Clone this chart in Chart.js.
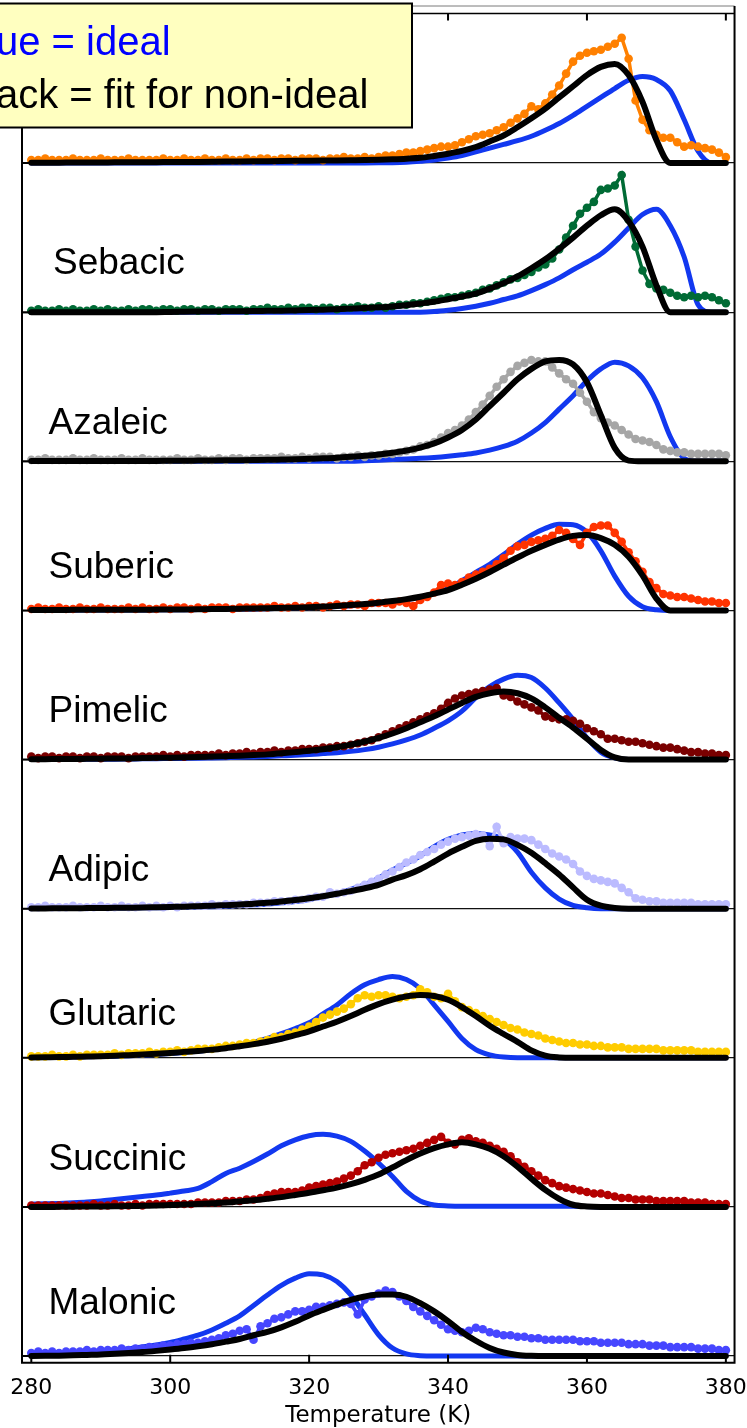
<!DOCTYPE html>
<html>
<head>
<meta charset="utf-8">
<title>Desorption profiles of dicarboxylic acids</title>
<script src="https://cdn.jsdelivr.net/npm/chart.js@4.4.1/dist/chart.umd.min.js"></script>
<style>
  html, body { margin: 0; padding: 0; background: #fff; }
  #wrap { width: 747px; height: 1428px; position: relative; }
</style>
</head>
<body>
<div id="wrap"><canvas id="chart" width="747" height="1428"></canvas></div>
<script>
// Temperature grids (K): measured signal every 1 K, model curves every 2 K
const dataTemps = [280,281,282,283,284,285,286,287,288,289,290,291,292,293,294,295,296,297,298,299,
  300,301,302,303,304,305,306,307,308,309,310,311,312,313,314,315,316,317,318,319,
  320,321,322,323,324,325,326,327,328,329,330,331,332,333,334,335,336,337,338,339,
  340,341,342,343,344,345,346,347,348,349,350,351,352,353,354,355,356,357,358,359,
  360,361,362,363,364,365,366,367,368,369,370,371,372,373,374,375,376,377,378,379,380];
const fitTemps = [280,282,284,286,288,290,292,294,296,298,300,302,304,306,308,310,312,314,316,318,
  320,322,324,326,328,330,332,334,336,338,340,342,344,346,348,350,352,354,356,358,
  360,362,364,366,368,370,372,374,376,378,380];
const xTickValues = [280, 300, 320, 340, 360, 380];

// Normalised signal, in percent of one panel height
const upperData = [2,2,3,2,2,2,3,2,2,2,3,2,2,2,3,2,2,2,2,3,
  2,2,3,2,2,3,2,2,3,2,2,3,2,3,3,2,3,3,2,3,
  3,3,2,3,3,4,3,3,4,3,
  4,5,5,6,7,7,8,9,10,11,
  11,12,14,16,18,19,20,22,24,27,
  30,33,38,36,40,46,52,60,68,72,
  74,75,76,78,80,84,70,42,29,22,
  19,17,17,14,11,12,11,10,9,7,4];
const upperIdeal = [0,0,0,0,0,0,0,0,0,0,
  0,0,0,0,0,0,0,0,0,0,
  0,0,0,0,0.1,0.2,0.3,0.6,1.2,2,
  3.3,5,7.5,10,12.5,15,18,22,26.5,32,
  38,44,50,55.5,58,56,48.5,29,8,0,
  0];
const upperFit = [0.3,0.3,0.3,0.4,0.4,0.4,0.5,0.5,0.6,0.6,
  0.7,0.7,0.8,0.9,1,1.1,1.2,1.3,1.4,1.5,
  1.6,1.7,1.8,1.9,2,2.2,2.5,2.9,3.5,4.8,
  6.3,8.2,10.8,14.5,18.5,24,30,36.5,44,51.5,
  59,64.5,66.5,59,41,15.5,0,0,0,0,
  0];

const sebacicData = [1,2,1,1,2,1,2,1,1,2,1,2,1,1,2,1,2,2,1,2,
  2,1,2,2,1,2,2,1,2,2,2,1,2,2,3,2,2,3,2,3,
  3,2,3,3,2,3,3,4,3,3,
  4,3,4,5,5,6,6,7,8,9,
  10,10,11,12,13,15,16,18,20,22,
  23,25,27,30,32,36,42,50,58,66,
  70,74,82,83,85,92,62,44,28,19,
  16,15,13,11,10,11,10,11,10,8,6];
const sebacicIdeal = [0,0,0,0,0,0,0,0,0,0,
  0,0,0,0,0,0,0,0,0,0,
  0,0,0,0,0,0,0,0,0,0.4,
  1.3,2.5,4,6,8.5,11,14.5,18.5,23,28.5,
  33.5,39,47,56.5,65.5,69,58,37,5,0,
  0];
const sebacicFit = [0,0,0,0,0,0,0,0,0,0,
  0.2,0.3,0.4,0.5,0.6,0.7,0.8,0.9,1,1.2,
  1.4,1.7,2,2.4,2.8,3.3,3.9,4.7,5.8,7,
  8.7,10.5,12.5,15.8,19.5,24,29.5,35.5,42.5,50,
  58,65,69,61,44,18,0,0,0,0,
  0];

const azaleicData = [1,1,2,1,1,1,2,1,1,2,1,1,1,2,1,1,2,1,1,1,
  1,2,1,1,2,1,1,2,1,2,2,1,2,2,2,2,3,2,2,3,
  2,3,3,3,2,3,3,4,3,4,
  4,5,5,6,7,8,10,11,13,16,
  19,21,24,28,33,38,44,50,55,60,
  64,66,68,67,67,63,59,55,52,46,
  40,33,29,26,24,21,18,15,14,13,
  11,8,7,6,6,5,5,5,5,5,4];
const azaleicIdeal = [0,0,0,0,0,0,0,0,0,0,
  0,0,0,0,0,0,0,0,0,0,
  0,0,0,0,0.4,0.8,1.2,1.6,2,2.6,
  3.4,4.4,5.6,7.5,10,13.5,19,26,35,44,
  54,62,66.5,64,56,40,16.5,2,0,0,
  0];
const azaleicFit = [0.3,0.3,0.3,0.3,0.3,0.3,0.3,0.3,0.3,0.3,
  0.4,0.4,0.5,0.6,0.7,0.8,0.9,1,1.2,1.4,
  1.7,2,2.4,3,3.7,4.6,5.8,7.2,9.2,12,
  16,21,28,37,46,55,62,67,68,65,
  53,31,9,0.5,0,0,0,0,0,0,
  0];

const subericData = [1,2,1,1,2,1,1,2,1,1,2,1,1,1,2,1,2,1,1,2,
  1,2,2,1,2,1,2,2,2,1,2,2,2,2,2,3,2,2,3,2,
  3,3,2,3,4,3,4,4,3,5,
  5,5,4,6,5,3,7,9,12,17,
  18,17,19,22,24,26,28,31,35,40,
  43,44,46,47,48,50,54,52,48,44,
  52,56,57,57,52,46,39,33,26,19,
  15,11,10,9,9,8,7,6,6,5,5];
const subericIdeal = [0.2,0.2,0.2,0.2,0.3,0.3,0.3,0.3,0.3,0.4,
  0.4,0.5,0.6,0.7,0.8,0.9,1,1.2,1.4,1.6,
  1.9,2.2,2.6,3.1,3.8,4.7,5.8,7.2,9,11.5,
  14.5,20,25.5,31,37.5,44.5,50.5,55,57.8,57.5,
  52.5,40,23,9.5,2.5,0.5,0,0,0,0,
  0];
const subericFit = [0.3,0.3,0.3,0.4,0.4,0.4,0.5,0.5,0.5,0.6,
  0.6,0.7,0.8,0.9,1,1.2,1.3,1.5,1.7,1.9,
  2.2,2.6,3,3.6,4.3,5.2,6.3,7.6,9.2,11.3,
  13.7,17.3,21.3,25.8,30.7,35.5,40,44,47.5,50,
  50.6,48.5,44,36,23.5,8,0,0,0,0,
  0];

const pimelicData = [2,1,2,2,1,2,2,1,2,2,1,2,2,2,1,2,2,2,2,3,
  2,3,2,3,3,3,3,4,3,4,4,5,4,5,5,6,5,6,6,7,
  7,7,8,8,9,9,10,11,12,13,
  15,17,19,21,23,25,27,29,31,34,
  38,41,43,44,45,46,47,48,43,42,
  39,37,35,33,29,28,27,27,26,24,
  21,19,17,14,14,13,12,12,11,10,
  9,8,8,7,6,5,5,4,4,3,3];
const pimelicIdeal = [0.1,0.1,0.2,0.2,0.2,0.3,0.3,0.4,0.5,0.6,
  0.7,0.8,0.9,1.1,1.3,1.5,1.8,2.1,2.5,2.9,
  3.4,4,4.6,5.5,6.7,8.3,10.5,13.2,16.5,21,
  26,32.5,41.5,49,54,56.5,55,48,38,27,
  14.5,5,1.2,0,0,0,0,0,0,0,
  0];
const pimelicFit = [0.3,0.3,0.4,0.4,0.5,0.6,0.7,0.8,1,1.2,
  1.3,1.5,1.7,2,2.3,2.6,3,3.5,4.2,5,
  5.9,7,8.3,10,12,14.5,17.5,21,25,29,
  33.5,38,42,44.5,45.6,44.5,41,35,28,21.5,
  14,6.5,1.5,0,0,0,0,0,0,0,
  0];

const adipicData = [1,1,2,1,1,1,2,1,1,1,2,1,1,2,1,1,2,1,2,1,
  2,1,2,2,2,2,3,2,3,3,3,3,4,4,4,5,5,5,6,6,
  7,8,8,11,10,11,12,14,16,18,
  20,23,25,28,31,33,36,38,40,43,
  45,47,48,49,50,49,42,55,44,48,
  47,47,46,43,40,37,35,33,30,25,
  22,20,19,18,17,14,11,7,6,5,
  5,4,4,4,4,4,3,3,3,3,3];
const adipicIdeal = [0.1,0.1,0.2,0.2,0.3,0.3,0.4,0.5,0.6,0.7,
  0.8,1,1.2,1.4,1.7,2.1,2.6,3.2,4,4.8,
  6.2,8,10,13,16,20.5,26,30.5,35.5,41.7,
  46.5,49.5,50.5,49.5,46.5,38,24.5,14,6.5,2.2,
  0.6,0,0,0,0,0,0,0,0,0,
  0];
const adipicFit = [0.2,0.2,0.3,0.3,0.4,0.5,0.6,0.7,0.8,1,
  1.2,1.4,1.7,2,2.4,2.8,3.4,4,4.8,5.8,
  7,8.4,10,11.8,13.7,16,19.5,22.5,26.5,31.6,
  37,41.5,45.5,47,46.5,42.8,37.5,30.5,23,14.3,
  6,2,0.5,0,0,0,0,0,0,0,
  0];

const glutaricData = [1,1,1,2,1,1,2,1,2,2,2,2,3,2,3,3,3,4,3,4,
  4,5,4,5,6,6,6,7,8,8,
  9,10,10,11,12,14,14,16,17,19,
  21,24,27,29,31,33,36,40,42,41,
  42,42,41,40,41,42,46,44,41,40,
  43,38,34,32,30,28,26,24,22,20,
  19,17,16,15,13,12,11,10,10,9,
  9,8,8,7,7,7,6,6,6,6,
  6,5,5,5,5,5,4,4,4,4,4];
const glutaricIdeal = [0.2,0.3,0.4,0.5,0.7,0.9,1.1,1.4,1.8,2.3,
  2.9,3.6,4.4,5.4,6.7,8.2,10.4,13,16.2,19.7,
  23.5,29.5,35.5,43,49,52.5,54.5,52.5,46.5,35.5,
  24.4,13,5.5,2,0.5,0,0,0,0,0,
  0,0,0,0,0,0,0,0,0,0,
  0];
const glutaricFit = [0.3,0.4,0.5,0.7,0.9,1.1,1.4,1.8,2.2,2.7,
  3.3,4,4.6,5.5,6.5,7.8,9.2,10.8,12.8,15.2,
  17.8,21,24.2,28,32.2,36,39,41.2,42.2,41.5,
  38.9,34,28,21.5,16,10.7,5,1.5,0.3,0,
  0,0,0,0,0,0,0,0,0,0,
  0];

const succinicData = [1,1,1,1,1,1,1,1,1,2,1,1,2,1,1,2,1,2,2,2,
  2,2,2,2,3,3,3,3,4,4,
  4,5,5,6,8,9,10,10,10,11,
  13,14,15,16,17,19,21,24,28,30,
  33,35,36,37,38,39,41,43,45,47,
  43,42,45,46,44,43,41,39,37,34,
  30,27,24,21,18,16,14,13,12,11,
  10,9,9,8,7,6,6,5,5,5,
  4,4,4,4,4,3,3,3,2,2,2];
const succinicIdeal = [1.9,2.1,2.4,2.8,3.3,4,5,6,7,8,
  9.3,10.7,12.4,17,22.5,26,30.5,35.5,41,45,
  47.8,48.7,47.5,44,37.5,29.5,20.5,10.4,4,1.3,
  0.7,0.5,0.5,0.5,0.5,0.5,0.5,0.5,0.5,0.5,
  0.3,0,0,0,0,0,0,0,0,0,
  0];
const succinicFit = [0,0,0.1,0.2,0.3,0.4,0.5,0.6,0.8,1,
  1.3,1.6,2,2.5,3,3.7,4.5,5.5,6.6,8,
  9.5,11.2,13,15.3,18.2,21.7,26.5,31.4,35.8,39.4,
  42,43.4,42,39,34,27,19,11.5,5.5,1.5,
  0.3,0,0,0,0,0,0,0,0,0,
  0];

const malonicData = [2,3,2,3,2,3,3,3,4,3,4,4,4,5,4,5,5,6,6,7,
  7,8,8,9,9,10,11,12,14,15,
  17,18,11,20,22,25,26,28,30,30,
  31,33,33,34,35,36,35,28,38,40,
  42,44,43,40,37,33,30,27,24,21,
  18,17,16,17,19,18,16,15,14,14,
  13,13,12,12,11,11,11,11,11,10,
  10,10,9,9,9,9,8,8,8,7,
  7,7,6,6,6,6,5,5,5,4,4];
const malonicIdeal = [0.5,0.8,1.2,1.7,2.3,3,4,5,6.2,7.5,
  9.2,11.5,14,17.5,22,27,34,41,47.5,52.3,
  55.3,54.5,50,41,27.7,14.3,5.4,1.5,0.3,0,
  0,0,0,0,0,0,0,0,0,0,
  0,0,0,0,0,0,0,0,0,0,
  0];
const malonicFit = [0.1,0.2,0.3,0.5,0.8,1.1,1.6,2.1,2.7,3.5,
  4.4,5.4,6.6,8,9.7,11.5,14,16.2,19.3,23,
  27.3,31,34.5,37.7,40,41.3,41.3,39.8,35.5,30,
  23.5,16.2,10.3,5.5,2.4,0.8,0.2,0,0,0,
  0,0,0,0,0,0,0,0,0,0,
  0];

// Panel names, top to bottom (the uppermost panel carries no visible name)
const panelNames = ['', 'Sebacic', 'Azaleic', 'Suberic', 'Pimelic', 'Adipic', 'Glutaric', 'Succinic', 'Malonic'];
const panelColors = ['#FF8000', '#006B35', '#A6A6A6', '#FF3300', '#7A0000', '#BBBBFF', '#FFCC00', '#B40000', '#4646FF'];
const IDEAL_COLOR = '#1238F0';
const FIT_COLOR = '#000000';
const PANEL_STEP = 100;

const panelSeries = [
  [upperData, upperIdeal, upperFit],
  [sebacicData, sebacicIdeal, sebacicFit],
  [azaleicData, azaleicIdeal, azaleicFit],
  [subericData, subericIdeal, subericFit],
  [pimelicData, pimelicIdeal, pimelicFit],
  [adipicData, adipicIdeal, adipicFit],
  [glutaricData, glutaricIdeal, glutaricFit],
  [succinicData, succinicIdeal, succinicFit],
  [malonicData, malonicIdeal, malonicFit]
];

// Name placement: pixels above each panel's baseline, and left edge
const labelLift = [0, 38, 27.5, 32.5, 37.5, 28, 32.5, 37, 42];
const labelLeft = [0, 53, 48.5, 48.5, 48.5, 48.5, 48.5, 48.5, 48.5];

function stacked(temps, values, offset) {
  return temps.map((t, i) => ({ x: t, y: offset + values[i] }));
}

const datasets = [];
panelSeries.forEach(([measured, ideal, fit], i) => {
  const offset = (panelSeries.length - 1 - i) * PANEL_STEP;
  const color = panelColors[i];
  const tag = panelNames[i] || 'upper';
  datasets.push({
    label: tag + ' ideal',
    data: stacked(fitTemps, ideal, offset),
    borderColor: IDEAL_COLOR,
    borderWidth: 5,
    pointRadius: 0,
    cubicInterpolationMode: 'monotone',
    borderCapStyle: 'round',
    borderJoinStyle: 'round',
    fill: false,
    order: 2
  });
  datasets.push({
    label: tag + ' measured',
    data: stacked(dataTemps, measured, offset),
    borderColor: color,
    backgroundColor: color,
    pointBackgroundColor: color,
    borderWidth: 3.5,
    pointRadius: 4.3,
    pointBorderWidth: 0,
    tension: 0,
    fill: false,
    order: 1
  });
  datasets.push({
    label: tag + ' fit',
    data: stacked(fitTemps, fit, offset),
    borderColor: FIT_COLOR,
    borderWidth: 6,
    pointRadius: 0,
    cubicInterpolationMode: 'monotone',
    borderCapStyle: 'round',
    borderJoinStyle: 'round',
    fill: false,
    order: 0
  });
});

const baselineValues = panelSeries.map((_, i) => i * PANEL_STEP);

// Frame, inward ticks, panel names and the key box
const decorations = {
  id: 'decorations',
  afterDraw(chart) {
    const { ctx, chartArea: a, scales: { x, y } } = chart;
    ctx.save();
    ctx.lineCap = 'butt';

    ctx.strokeStyle = '#7a7a7a';
    ctx.lineWidth = 1;
    ctx.beginPath();
    ctx.moveTo(a.left, 6);
    ctx.lineTo(a.right, 6);
    ctx.stroke();

    ctx.strokeStyle = '#000';
    ctx.lineWidth = 2;
    ctx.beginPath();
    ctx.moveTo(a.left, a.top);
    ctx.lineTo(a.left, a.bottom + 1);
    ctx.moveTo(a.right, 6);
    ctx.lineTo(a.right, a.bottom + 1);
    ctx.moveTo(a.left - 1, a.bottom);
    ctx.lineTo(a.right + 1, a.bottom);
    ctx.stroke();

    ctx.lineWidth = 1.6;
    ctx.beginPath();
    ctx.moveTo(a.left, a.top);
    ctx.lineTo(a.right, a.top);
    ctx.stroke();

    ctx.lineWidth = 2;
    ctx.beginPath();
    x.ticks.forEach(t => {
      const px = x.getPixelForValue(t.value);
      ctx.moveTo(px, a.bottom);
      ctx.lineTo(px, a.bottom - 8);
      ctx.moveTo(px, a.top);
      ctx.lineTo(px, a.top + 7);
    });
    y.ticks.forEach(t => {
      const py = y.getPixelForValue(t.value);
      ctx.moveTo(a.left, py);
      ctx.lineTo(a.left + 8, py);
    });
    ctx.stroke();

    ctx.fillStyle = '#000';
    ctx.font = '37px "Liberation Sans", Arial, sans-serif';
    ctx.textAlign = 'left';
    ctx.textBaseline = 'alphabetic';
    panelNames.forEach((name, i) => {
      if (!name) return;
      const base = y.getPixelForValue((panelNames.length - 1 - i) * PANEL_STEP);
      ctx.fillText(name, labelLeft[i], base - labelLift[i]);
    });

    ctx.fillStyle = '#FFFFC0';
    ctx.fillRect(-2, 3.5, 414, 124);
    ctx.strokeStyle = '#000';
    ctx.lineWidth = 2;
    ctx.strokeRect(-2, 3.5, 414, 124);
    ctx.font = '40px "Liberation Sans", Arial, sans-serif';
    ctx.fillStyle = '#0000FF';
    ctx.fillText('ue = ideal', -4, 54.5);
    ctx.fillStyle = '#000';
    ctx.fillText('ack = fit for non-ideal', -4, 107.5);

    ctx.restore();
  }
};

new Chart(document.getElementById('chart'), {
  type: 'line',
  data: { datasets },
  plugins: [decorations],
  options: {
    responsive: false,
    animation: false,
    devicePixelRatio: 1,
    events: [],
    layout: { padding: { left: 22, right: 12, top: 13.5, bottom: 0 } },
    plugins: {
      legend: { display: false },
      tooltip: { enabled: false }
    },
    scales: {
      x: {
        type: 'linear',
        min: 278.66,
        max: 381.25,
        afterBuildTicks: axis => { axis.ticks = xTickValues.map(v => ({ value: v })); },
        grid: { display: true, drawOnChartArea: false, drawTicks: true, tickLength: 12, color: 'rgba(0,0,0,0)' },
        border: { display: false },
        ticks: {
          padding: 0,
          color: '#000',
          maxRotation: 0,
          autoSkip: false,
          font: { family: '"DejaVu Sans", Verdana, sans-serif', size: 22 },
          callback: v => String(v)
        },
        title: {
          display: true,
          text: 'Temperature (K)',
          color: '#000',
          padding: { top: 1.2, bottom: -2 },
          font: { family: '"DejaVu Sans", Verdana, sans-serif', size: 23 }
        }
      },
      y: {
        type: 'linear',
        min: -4.49,
        max: 900.3,
        afterBuildTicks: axis => { axis.ticks = baselineValues.map(v => ({ value: v })); },
        grid: { display: true, drawOnChartArea: true, drawTicks: false, color: '#111', lineWidth: 1.3 },
        border: { display: false },
        ticks: { display: false }
      }
    }
  }
});
</script>
</body>
</html>
